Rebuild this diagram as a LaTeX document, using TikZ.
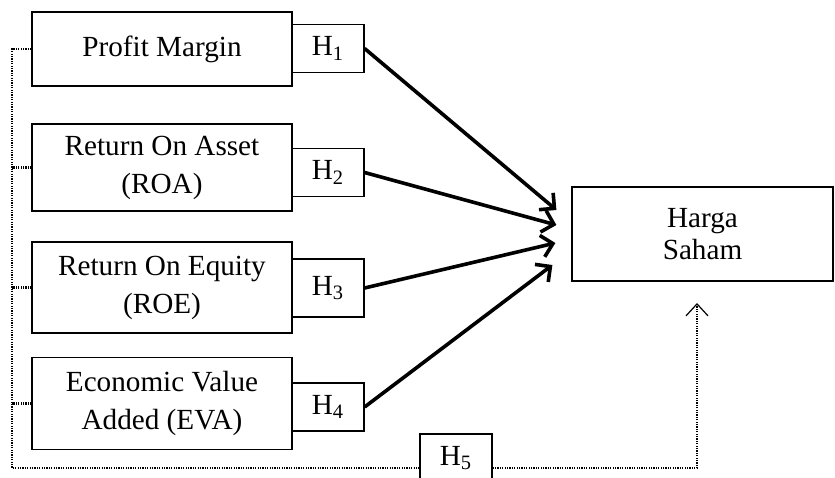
\documentclass[tikz,border=0pt]{standalone}
\usepackage{fontspec}
\setmainfont{Liberation Serif}
\usetikzlibrary{arrows.meta,calc}

\begin{document}
\begin{tikzpicture}[
    x=0.5pt, y=-0.5pt,
    font=\fontsize{14.6}{19}\selectfont,
    varbox/.style={
        draw,
        line width=0.6pt,
        minimum width=130pt,
        align=center,
        inner sep=0pt
    },
    hyp/.style={
        draw,
        fill=white,
        line width=0.6pt,
        minimum width=36pt,
        minimum height=24pt,
        inner sep=0pt
    },
    flow/.style={-{Straight Barb[length=5.5pt,width=11pt]},line width=1.8pt},
    dotline/.style={line width=1.1pt,dash pattern=on 0.6pt off 0.6pt},
    dotflow/.style={dotline,-{Straight Barb[length=6pt,width=11pt,line width=0.6pt]}}
]
\useasboundingbox (0,0) rectangle (835,477);
\clip (0,0) rectangle (835,477);

% Independent variables
\node[varbox,minimum height=37pt] (pm) at (162,49) {Profit Margin};
\node[varbox,minimum height=43.5pt] (roa) at (162,167.5) {Return On Asset\\(ROA)};
\node[varbox,minimum height=45.5pt] (roe) at (162,287.5) {Return On Equity\\(ROE)};
\node[varbox,minimum height=46pt] (eva) at (162,403.5) {Economic Value\\Added (EVA)};

% Dependent variable
\node[varbox,minimum width=130.5pt,minimum height=47pt,
    font=\fontsize{14.6}{16}\selectfont] (harga) at (702.5,234) {Harga\\Saham};

% Hypotheses
\node[hyp] (h1) at (328,48.5) {H\textsubscript{1}};
\node[hyp] (h2) at (328,172.5) {H\textsubscript{2}};
\node[hyp,minimum height=29pt] (h3) at (328,288) {H\textsubscript{3}};
\node[hyp] (h4) at (328,407) {H\textsubscript{4}};
\node[hyp] (h5) at (456,458) {H\textsubscript{5}};

% Arrow ends in front of Harga Saham
\coordinate (in1) at ($(harga.west)+(-15,-24)$);
\coordinate (in2) at ($(harga.west)+(-15,-9)$);
\coordinate (in3) at ($(harga.west)+(-16,9)$);
\coordinate (in4) at ($(harga.west)+(-19,31)$);
\coordinate (bus) at (12,468);
\coordinate (up) at (697,303);

% Partial effects
\draw[flow] (h1.east) -- (in1);
\draw[flow] (h2.east) -- (in2);
\draw[flow] (h3.east) -- (in3);
\draw[flow] (h4.east) -- (in4);

% Joint effect
\draw[dotline] (pm.west) -| (bus) -- (bus -| h5.west);
\draw[dotline] (roa.west) -- (roa.west -| bus);
\draw[dotline] (roe.west) -- (roe.west -| bus);
\draw[dotline] (eva.west) -- (eva.west -| bus);
\draw[dotflow] (bus -| h5.east) -| (up);

\end{tikzpicture}
\end{document}
